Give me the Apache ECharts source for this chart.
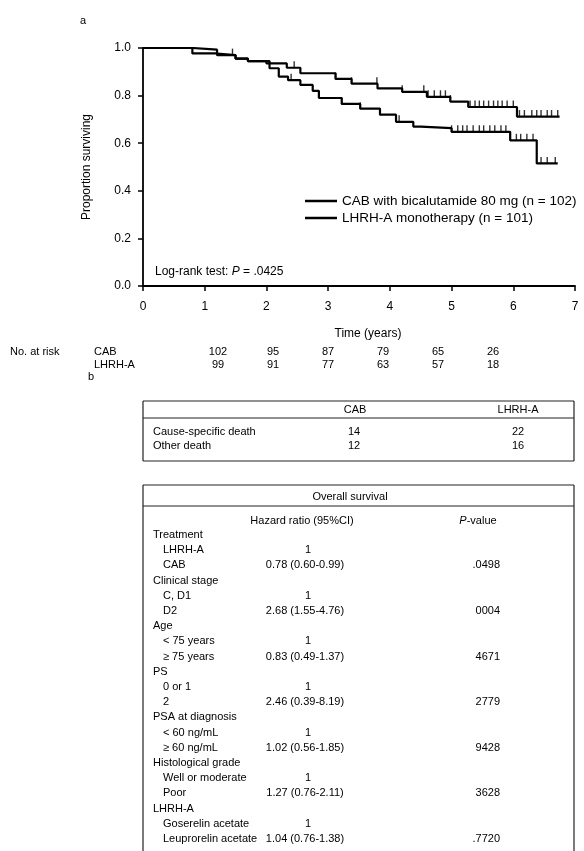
<!DOCTYPE html>
<html>
<head>
<meta charset="utf-8">
<script src="https://cdn.jsdelivr.net/npm/echarts@6/dist/echarts.min.js"></script>
<style>
html, body { margin: 0; padding: 0; background: #fff; }
#chart { width: 584px; height: 851px; }
</style>
</head>
<body>
<div id="chart"></div>
<script>
// Kaplan-Meier steps: time (years) and proportion surviving after each step
var cabTimes  = [0, 0.8, 1.2, 1.5, 1.7, 2.0, 2.33, 2.55, 3.12, 3.38, 3.8, 4.2, 4.6, 4.98, 5.27, 6.06, 6.75];
var cabSurv   = [1.0, 0.993, 0.97, 0.955, 0.945, 0.935, 0.917, 0.894, 0.87, 0.85, 0.83, 0.816, 0.795, 0.775, 0.752, 0.712, 0.712];
var lhrhTimes = [0, 0.8, 1.2, 1.5, 1.7, 2.05, 2.2, 2.35, 2.55, 2.75, 2.85, 3.22, 3.52, 3.84, 4.1, 4.38, 4.5, 5.0, 5.95, 6.38, 6.72];
var lhrhSurv  = [1.0, 0.977, 0.97, 0.955, 0.945, 0.915, 0.88, 0.865, 0.845, 0.82, 0.79, 0.765, 0.745, 0.72, 0.69, 0.67, 0.663, 0.648, 0.612, 0.515, 0.515];

// censored observations (years)
var cabCensor  = [1.45, 2.45, 3.12, 3.38, 3.79, 4.2, 4.55, 4.62, 4.72, 4.82, 4.9, 4.98, 5.3, 5.38, 5.45, 5.52, 5.6, 5.68, 5.75, 5.82, 5.9, 6.0,
                  6.1, 6.18, 6.3, 6.38, 6.45, 6.55, 6.62, 6.72];
var lhrhCensor = [2.4, 3.22, 3.52, 3.84, 4.15, 5.0, 5.1, 5.18, 5.25, 5.35, 5.45, 5.52, 5.62, 5.7, 5.8, 5.88, 5.95, 6.05, 6.12, 6.22, 6.32,
                  6.45, 6.55, 6.68];

var cabName  = 'CAB with bicalutamide 80 mg (n = 102)';
var lhrhName = 'LHRH-A monotherapy (n = 101)';

// numbers at risk
var riskYears = [1, 2, 3, 4, 5, 6];
var riskCab   = [102, 95, 87, 79, 65, 26];
var riskLhrh  = [99, 91, 77, 63, 57, 18];

// death table
var deathCauses = ['Cause-specific death', 'Other death'];
var deathCab    = [14, 12];
var deathLhrh   = [22, 16];

// overall survival table
var hrFactors = ['Treatment', 'Clinical stage', 'Age', 'PS', 'PSA at diagnosis', 'Histological grade', 'LHRH-A'];
var hrLevels  = [['LHRH-A', 'CAB'], ['C, D1', 'D2'], ['< 75 years', '\u2265 75 years'], ['0 or 1', '2'],
                 ['< 60 ng/mL', '\u2265 60 ng/mL'], ['Well or moderate', 'Poor'], ['Goserelin acetate', 'Leuprorelin acetate']];
var hrRatio   = ['0.78 (0.60-0.99)', '2.68 (1.55-4.76)', '0.83 (0.49-1.37)', '2.46 (0.39-8.19)',
                 '1.02 (0.56-1.85)', '1.27 (0.76-2.11)', '1.04 (0.76-1.38)'];
var hrP       = ['.0498', '0004', '4671', '2779', '9428', '3628', '.7720'];

function survAt(times, surv, t) {
    var s = surv[0];
    for (var i = 0; i < times.length; i++) {
        if (times[i] <= t) s = surv[i];
    }
    return s;
}

function curve(times, surv) {
    return times.map(function (t, i) { return [t, surv[i]]; });
}

function censorPts(list, times, surv) {
    return list.map(function (t) { return [t, survAt(times, surv, t)]; });
}

var FONT = '"Liberation Sans", Arial, sans-serif';
var INK = '#000';

var myChart = echarts.init(document.getElementById('chart'), null, { renderer: 'canvas' });

function txt(text, x, y, opts) {
    opts = opts || {};
    return {
        type: 'text',
        x: x,
        y: y,
        style: {
            text: text,
            fill: INK,
            fontFamily: FONT,
            fontSize: opts.size || 11,
            textAlign: opts.align || 'left',
            textVerticalAlign: 'middle',
            rich: opts.rich
        }
    };
}

function hline(x1, x2, y) {
    return { type: 'line', shape: { x1: x1, y1: y, x2: x2, y2: y }, style: { stroke: '#222', lineWidth: 1.2 } };
}
function vline(x, y1, y2) {
    return { type: 'line', shape: { x1: x, y1: y1, x2: x, y2: y2 }, style: { stroke: '#222', lineWidth: 1.2 } };
}

var censorStyle = {
    type: 'scatter',
    symbol: 'rect',
    symbolSize: [1.4, 7],
    symbolOffset: [0, -3],
    itemStyle: { color: '#000' }
};

var option = {
    backgroundColor: '#fff',
    animation: false,
    textStyle: { fontFamily: FONT },
    grid: { left: 143, right: 9, top: 48, bottom: 565 },
    legend: {
        orient: 'vertical',
        left: 300,
        top: 189,
        itemWidth: 32,
        itemHeight: 2.5,
        itemGap: 3,
        icon: 'rect',
        data: [cabName, lhrhName],
        textStyle: { fontSize: 13.5, color: INK, fontFamily: FONT }
    },
    xAxis: {
        type: 'value',
        min: 0,
        max: 7,
        interval: 1,
        axisLine: { show: true, onZero: false, lineStyle: { color: '#000', width: 1.8 } },
        axisTick: { show: true, length: 5, lineStyle: { color: '#000', width: 1.5 } },
        axisLabel: { color: INK, fontSize: 12, margin: 15, fontFamily: FONT },
        splitLine: { show: false }
    },
    yAxis: {
        type: 'value',
        min: 0,
        max: 1,
        interval: 0.2,
        name: 'Proportion surviving',
        nameLocation: 'middle',
        nameGap: 50,
        nameTextStyle: { fontSize: 12, color: INK, fontFamily: FONT },
        axisLine: { show: true, lineStyle: { color: '#000', width: 1.8 } },
        axisTick: { show: true, length: 5, lineStyle: { color: '#000', width: 1.5 } },
        axisLabel: {
            color: INK, fontSize: 12, margin: 12, fontFamily: FONT,
            formatter: function (v) { return v.toFixed(1); }
        },
        splitLine: { show: false }
    },
    series: [
        {
            name: cabName,
            type: 'line',
            step: 'end',
            showSymbol: false,
            itemStyle: { color: '#000' },
            lineStyle: { color: '#000', width: 2.2 },
            data: curve(cabTimes, cabSurv)
        },
        {
            name: lhrhName,
            type: 'line',
            step: 'end',
            showSymbol: false,
            itemStyle: { color: '#000' },
            lineStyle: { color: '#000', width: 2.2 },
            data: curve(lhrhTimes, lhrhSurv)
        },
        Object.assign({ name: 'cab-censor', data: censorPts(cabCensor, cabTimes, cabSurv) }, censorStyle),
        Object.assign({ name: 'lhrh-censor', data: censorPts(lhrhCensor, lhrhTimes, lhrhSurv) }, censorStyle)
    ]
};

myChart.setOption(option);

var els = [];
els.push(txt('a', 80, 21));
els.push(txt('Log-rank test: {i|P} = .0425', 155, 272, {
    size: 12,
    rich: { i: { fontStyle: 'italic', fontSize: 12, fontFamily: FONT, fill: INK } }
}));
els.push(txt('Time (years)', 368, 334, { size: 12, align: 'center' }));

// numbers at risk (the printed columns sit a little tighter than the axis ticks)
els.push(txt('No. at risk', 10, 352));
els.push(txt('CAB', 94, 352));
els.push(txt('LHRH-A', 94, 365));
riskYears.forEach(function (yr, i) {
    var px = 163 + yr * 55;
    els.push(txt(String(riskCab[i]), px, 352, { align: 'center' }));
    els.push(txt(String(riskLhrh[i]), px, 365, { align: 'center' }));
});

els.push(txt('b', 88, 377));

// table 1: deaths
var tL = 143, tR = 574;
var t1Top = 401, t1Head = 410, t1Line = 418, t1Row = 432, t1Step = 14, t1Bot = 461;
els.push(hline(tL, tR, t1Top), hline(tL, tR, t1Line), hline(tL, tR, t1Bot), vline(tL, t1Top, t1Bot), vline(tR, t1Top, t1Bot));
els.push(txt('CAB', 355, t1Head, { align: 'center' }));
els.push(txt('LHRH-A', 518, t1Head, { align: 'center' }));
deathCauses.forEach(function (c, i) {
    var y = t1Row + i * t1Step;
    els.push(txt(c, 153, y));
    els.push(txt(String(deathCab[i]), 354, y, { align: 'center' }));
    els.push(txt(String(deathLhrh[i]), 518, y, { align: 'center' }));
});

// table 2: overall survival
var t2Top = 485, t2Title = 497, t2Line = 506, t2Head = 521, t2Row = 535, t2Step = 15.2, t2Bot = 851;
var hrX = 305, pX = 500;
els.push(hline(tL, tR, t2Top), hline(tL, tR, t2Line), vline(tL, t2Top, t2Bot), vline(tR, t2Top, t2Bot));
els.push(txt('Overall survival', 350, t2Title, { align: 'center' }));
els.push(txt('Hazard ratio (95%CI)', hrX - 3, t2Head, { align: 'center' }));
els.push(txt('{i|P}-value', pX - 22, t2Head, {
    align: 'center',
    rich: { i: { fontStyle: 'italic', fontSize: 11, fontFamily: FONT, fill: INK } }
}));
var row = 0;
hrFactors.forEach(function (f, k) {
    els.push(txt(f, 153, t2Row + row * t2Step));
    row++;
    els.push(txt(hrLevels[k][0], 163, t2Row + row * t2Step));
    els.push(txt('1', hrX + 3, t2Row + row * t2Step, { align: 'center' }));
    row++;
    els.push(txt(hrLevels[k][1], 163, t2Row + row * t2Step));
    els.push(txt(hrRatio[k], hrX, t2Row + row * t2Step, { align: 'center' }));
    els.push(txt(hrP[k], pX, t2Row + row * t2Step, { align: 'right' }));
    row++;
});

myChart.setOption({ graphic: { elements: els } });
</script>
</body>
</html>
